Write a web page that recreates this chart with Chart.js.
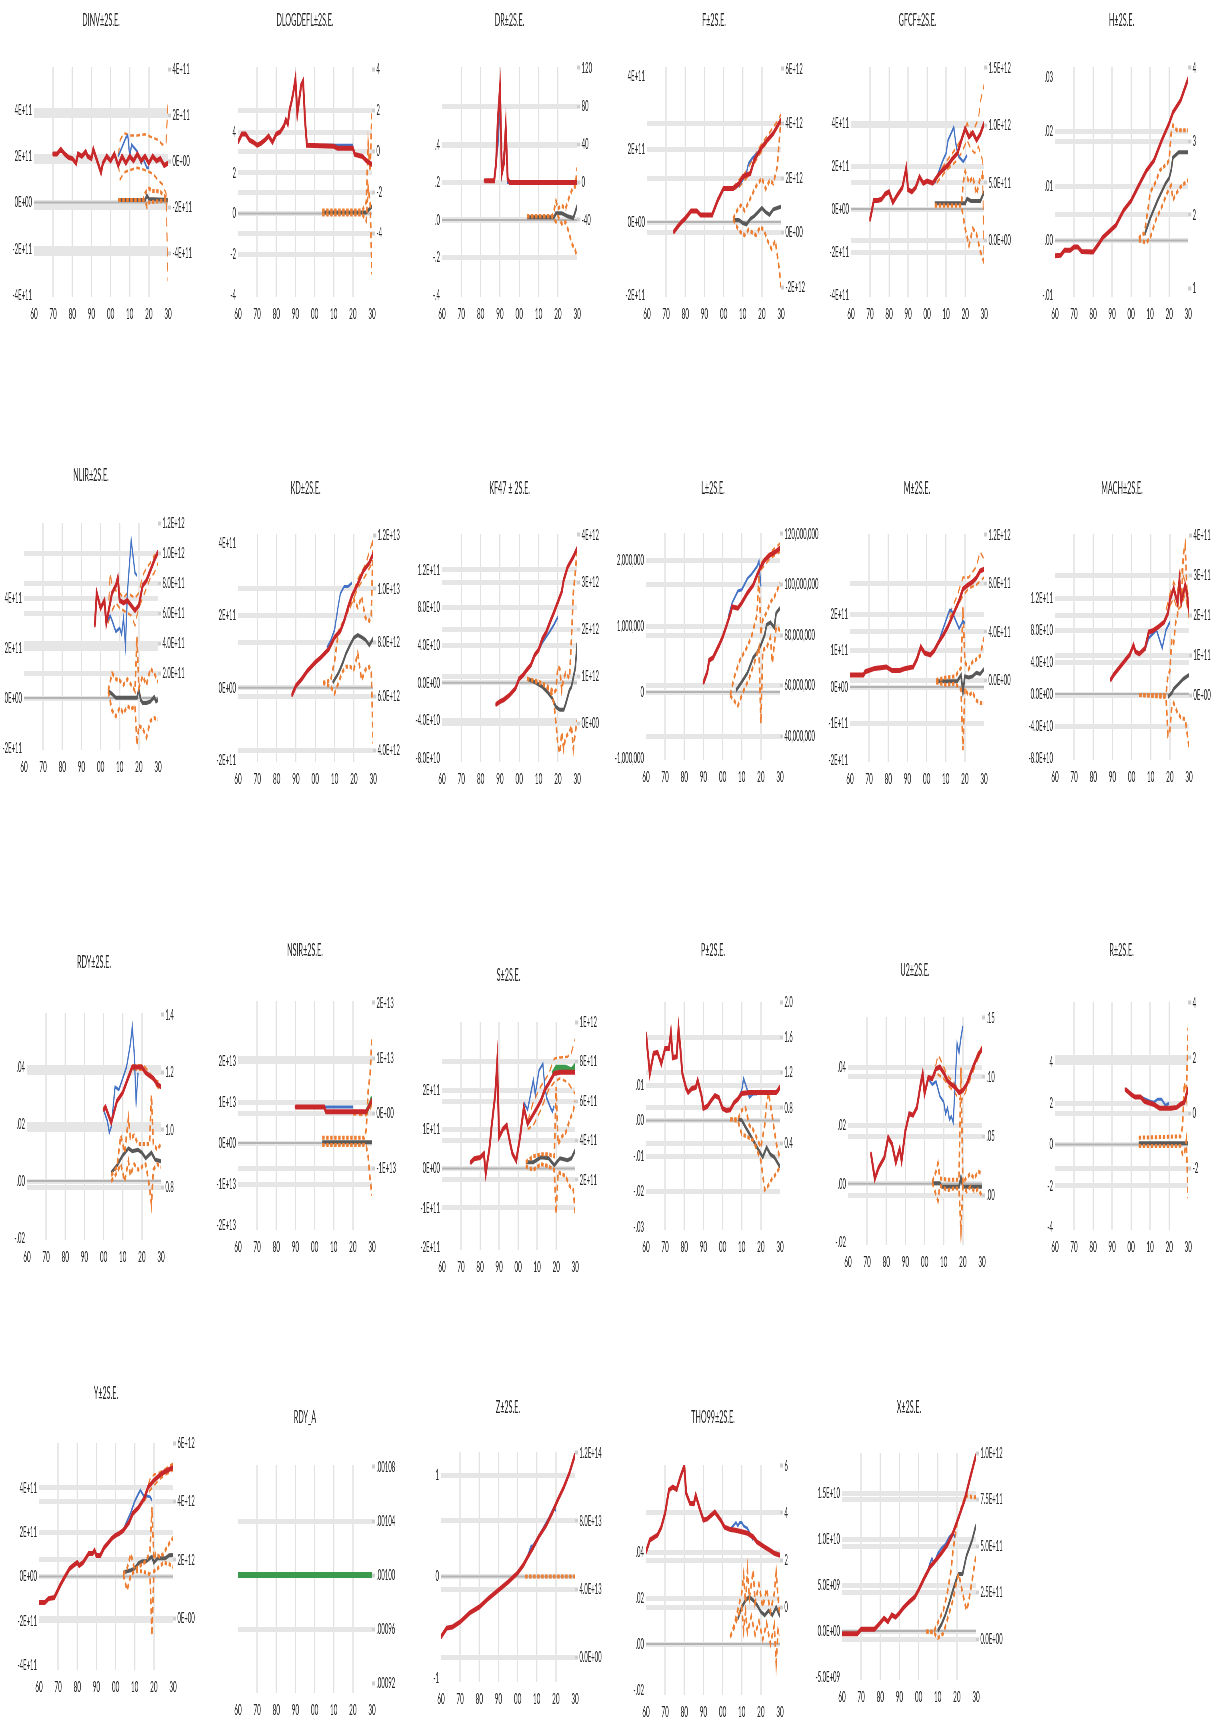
<!DOCTYPE html>
<html>
<head>
<meta charset="utf-8">
<script src="https://cdn.jsdelivr.net/npm/chart.js@4.4.1/dist/chart.umd.min.js"></script>
<style>
html, body { margin: 0; padding: 0; background: #fff; overflow: hidden; width: 1215px; height: 1717px; }
#wrap { position: relative; width: 1215px; height: 1717px; }
#wrap canvas { position: absolute; transform-origin: 0 0; }
</style>
</head>
<body>
<div id="wrap"></div>
<script>
// ---- shared axis labels ----
const decadeTicks = [1960, 1970, 1980, 1990, 2000, 2010, 2020, 2030];
const decadeLabels = ['60', '70', '80', '90', '00', '10', '20', '30'];
const t4 = [-4, -2, 0, 2, 4];
const e11Labels = ['-4E+11', '-2E+11', '0E+00', '2E+11', '4E+11'];
const plain4Labels = ['-4', '-2', '0', '2', '4'];

// ---- DINV (values in 1E11) ----
const dinvRed = [[1970,2.1],[1972,2.1],[1974,2.3],[1976,2.1],[1978,1.95],[1980,1.9],[1982,1.7],[1983,2.1],[1985,2.0],[1987,2.2],[1988,2.0],[1990,1.9],[1991,2.3],[1993,1.8],[1995,1.3],[1996,1.7],[1998,2.0],[2000,1.8],[2002,2.1],[2004,1.6],[2006,2.0],[2008,1.7],[2010,2.0],[2012,1.8],[2014,2.1],[2016,1.8],[2018,2.0],[2020,1.7],[2022,2.0],[2024,1.8],[2026,1.9],[2028,1.6],[2030,1.7]];
const dinvBlue = [[2004,2.0],[2006,2.4],[2008,2.8],[2009,2.9],[2010,2.0],[2011,2.5],[2012,2.4],[2014,2.2],[2016,1.7],[2017,1.9],[2019,1.5],[2020,1.5]];
const dinvHi = [[2004,2.0],[2005,2.7],[2007,3.0],[2010,2.9],[2014,2.9],[2018,2.95],[2022,2.8],[2025,2.7],[2027,2.5],[2029,2.6],[2030,4.3]];
const dinvLo = [[2004,1.7],[2005,1.0],[2007,1.3],[2010,1.4],[2014,1.5],[2018,1.4],[2022,1.25],[2025,0.95],[2027,0.8],[2029,0.4],[2030,-3.4]];
const dinvGray = [[2004,-1.7],[2018,-1.7],[2019,-1.5],[2020,-1.65],[2030,-1.7]];
const dinvDiffHi = [[2004,-1.7],[2017,-1.7],[2018,-1.4],[2020,-1.2],[2022,-1.3],[2024,-1.3],[2026,-1.35],[2028,-1.5],[2030,-1.7]];
const dinvDiffLo = [[2004,-1.7],[2018,-1.7],[2019,-2.0],[2020,-1.8],[2030,-1.7]];

// ---- DLOGDEFL ----
const dlogRed = [[1960,3.5],[1962,3.9],[1964,3.9],[1966,3.6],[1968,3.5],[1970,3.35],[1972,3.45],[1974,3.6],[1976,3.8],[1978,3.5],[1980,3.9],[1982,4.0],[1984,4.3],[1985,4.6],[1986,4.4],[1987,5.1],[1988,5.5],[1989,6.0],[1990,6.6],[1991,4.9],[1992,5.6],[1993,6.3],[1994,6.5],[1995,4.6],[1996,3.35],[2010,3.3],[2012,3.2],[2020,3.2],[2021,2.9],[2025,2.8],[2027,2.6],[2030,2.4]];
const dlogBlue = [[2004,3.35],[2020,3.35]];
const dlogGray = [[2004,-3.0],[2027,-3.0],[2028,-2.9],[2030,-2.7]];
const dlogDiffHi = [[2004,-2.9],[2025,-2.9],[2027,-2.5],[2028,0.3],[2029,-1.0],[2030,2.0]];
const dlogDiffLo = [[2004,-3.1],[2025,-3.1],[2027,-3.4],[2028,-1.8],[2029,-2.5],[2030,-6.0]];

// ---- DR ----
const drTicksL = [-0.4, -0.2, 0, 0.2, 0.4];
const drLabelsL = ['-.4', '-.2', '.0', '.2', '.4'];
const drTicksR = [-40, 0, 40, 80, 120];
const drLabelsR = ['-40', '0', '40', '80', '120'];
const drRed = [[1982,0.21],[1987,0.21],[1988,0.3],[1989,0.55],[1990,0.7],[1991,0.25],[1992,0.3],[1993,0.49],[1994,0.22],[1995,0.2],[2030,0.2]];
const drBlue = [[1987,0.21],[1989,0.4],[1990,0.62],[1991,0.25],[1993,0.45],[1994,0.2],[2020,0.2]];
const drGray = [[2004,-37],[2018,-37],[2019,-33],[2022,-33],[2025,-36],[2028,-38],[2030,-25]];
const drDiffHi = [[2004,-36],[2017,-36],[2018,-30],[2019,-20],[2020,-28],[2022,-25],[2024,-28],[2026,-15],[2028,-5],[2029,-5],[2030,15]];
const drDiffLo = [[2004,-36],[2017,-36],[2019,-42],[2020,-36],[2022,-44],[2024,-42],[2026,-55],[2027,-64],[2029,-72],[2030,-79]];

// ---- F (left 1E11, right 1E12) ----
const fTicksL = [-2, 0, 2, 4];
const fLabelsL = ['-2E+11', '0E+00', '2E+11', '4E+11'];
const fTicksR = [-2, 0, 2, 4, 6];
const fLabelsR = ['-2E+12', '0E+00', '2E+12', '4E+12', '6E+12'];
const fRed = [[1974,-0.27],[1976,-0.13],[1978,0.0],[1980,0.1],[1983,0.3],[1986,0.3],[1988,0.19],[1994,0.19],[1997,0.6],[2000,0.92],[2005,0.92],[2008,1.05],[2010,1.24],[2014,1.33],[2016,1.7],[2020,2.05],[2023,2.25],[2026,2.43],[2030,2.8]];
const fBlue = [[2005,0.92],[2008,1.0],[2010,1.15],[2012,1.35],[2013,1.6],[2015,1.75],[2017,1.85],[2020,2.05]];
const fHi = [[2005,0.95],[2008,1.15],[2012,1.4],[2016,1.8],[2020,2.15],[2024,2.45],[2028,2.75],[2030,2.95]];
const fLo = [[2005,0.9],[2008,0.95],[2012,1.2],[2016,1.6],[2020,1.95],[2024,2.3],[2028,2.6],[2030,2.7]];
const fGray = [[2005,0.46],[2008,0.46],[2010,0.35],[2012,0.3],[2014,0.5],[2016,0.6],[2018,0.75],[2020,0.9],[2022,0.75],[2024,0.65],[2026,0.85],[2028,0.9],[2030,0.95]];
const fDiffHi = [[2005,0.5],[2007,0.8],[2009,1.0],[2011,0.8],[2013,1.1],[2015,1.4],[2017,1.7],[2019,1.9],[2020,2.0],[2022,1.6],[2024,1.9],[2026,1.8],[2028,2.4],[2029,3.3],[2030,4.1]];
const fDiffLo = [[2005,0.5],[2007,0.2],[2009,0.0],[2011,-0.1],[2013,0.1],[2015,0.0],[2017,-0.1],[2019,0.2],[2021,0.1],[2023,-0.3],[2025,-0.6],[2027,-0.3],[2029,-1.3],[2030,-2.0]];

// ---- GFCF (left 1E11, right 1E12) ----
const gfcfTicksR = [0, 0.5, 1, 1.5];
const gfcfLabelsR = ['0.0E+00', '5.0E+11', '1.0E+12', '1.5E+12'];
const gfcfRed = [[1970,-0.5],[1972,0.4],[1974,0.4],[1976,0.45],[1978,0.7],[1980,0.8],[1982,0.3],[1984,0.6],[1987,1.0],[1989,1.9],[1990,0.9],[1992,0.8],[1994,1.0],[1996,1.5],[1998,1.2],[2000,1.3],[2003,1.2],[2006,1.6],[2008,1.8],[2011,2.05],[2013,2.3],[2016,2.6],[2018,3.2],[2020,3.75],[2022,3.35],[2024,3.55],[2026,3.2],[2028,3.5],[2030,4.0]];
const gfcfBlue = [[2004,1.2],[2006,1.7],[2008,2.2],[2010,2.6],[2011,3.2],[2013,3.6],[2014,3.8],[2015,3.1],[2016,2.6],[2017,2.4],[2019,2.2],[2021,2.5]];
const gfcfHi = [[2005,1.5],[2010,2.2],[2015,2.8],[2019,3.4],[2021,4.0],[2023,3.5],[2025,3.8],[2027,4.2],[2028,5.0],[2030,5.8]];
const gfcfLo = [[2005,1.2],[2010,1.8],[2015,2.2],[2018,2.6],[2021,3.2],[2023,2.8],[2025,2.6],[2027,2.9],[2029,2.3],[2030,-2.5]];
const gfcfGray = [[2004,0.32],[2020,0.32],[2021,0.36],[2023,0.34],[2028,0.34],[2030,0.42]];
const gfcfDiffHi = [[2004,0.3],[2018,0.3],[2019,0.5],[2020,0.6],[2022,0.5],[2024,0.55],[2026,0.4],[2028,0.55],[2030,0.55]];
const gfcfDiffLo = [[2004,0.3],[2018,0.3],[2020,0.1],[2022,-0.05],[2024,0.1],[2026,0.05],[2028,-0.1],[2030,-0.2]];

// ---- H ----
const hTicksL = [-0.01, 0, 0.01, 0.02, 0.03];
const hLabelsL = ['-.01', '.00', '.01', '.02', '.03'];
const hTicksR = [1, 2, 3, 4];
const hLabelsR = ['1', '2', '3', '4'];
const hRed = [[1960,-0.0028],[1963,-0.0027],[1965,-0.0018],[1968,-0.0018],[1970,-0.0012],[1972,-0.0012],[1974,-0.002],[1980,-0.0021],[1983,-0.0006],[1985,0.0005],[1989,0.0018],[1992,0.0028],[1996,0.0055],[2000,0.0073],[2004,0.0101],[2008,0.0128],[2012,0.0147],[2016,0.0183],[2020,0.0215],[2022,0.0235],[2026,0.0257],[2030,0.0297]];
const hGray = [[2007,1.72],[2010,1.95],[2014,2.2],[2018,2.42],[2020,2.5],[2021,2.6],[2022,2.78],[2025,2.85],[2030,2.85]];
const hDiffHi = [[2004,1.68],[2007,1.75],[2009,2.1],[2010,2.3],[2013,2.45],[2015,2.6],[2019,2.7],[2020,2.75],[2021,3.1],[2022,3.22],[2024,3.15],[2030,3.15]];
const hDiffLo = [[2004,1.65],[2008,1.62],[2010,1.68],[2013,1.93],[2016,2.1],[2019,2.3],[2021,2.4],[2022,2.2],[2024,2.3],[2026,2.38],[2030,2.47]];

// ---- NLIR (1E11) ----
const nlirTicksL = [-2, 0, 2, 4];
const nlirLabelsL = ['-2E+11', '0E+00', '2E+11', '4E+11'];
const nlirTicksR = [2, 4, 6, 8, 10, 12];
const nlirLabelsR = ['2.0E+11', '4.0E+11', '6.0E+11', '8.0E+11', '1.0E+12', '1.2E+12'];
const nlirRed = [[1997,2.9],[1998,4.2],[2000,3.6],[2002,3.9],[2003,3.0],[2006,4.2],[2008,4.5],[2009,4.8],[2010,3.9],[2012,3.8],[2014,3.9],[2016,3.7],[2018,3.5],[2020,3.7],[2022,4.5],[2024,4.7],[2026,5.1],[2028,5.5],[2030,5.85]];
const nlirBlue = [[2003,3.0],[2005,3.3],[2006,3.1],[2008,2.65],[2010,2.8],[2011,2.55],[2012,3.2],[2013,2.1],[2014,4.2],[2016,6.3],[2018,5.0],[2019,4.9]];
const nlirHi = [[2004,3.3],[2005,5.0],[2006,4.5],[2008,4.3],[2010,4.2],[2012,4.0],[2014,4.2],[2016,4.1],[2018,4.0],[2020,4.2],[2022,4.9],[2024,5.2],[2026,5.4],[2028,5.7],[2030,5.7]];
const nlirLo = [[2004,3.0],[2006,3.5],[2008,3.8],[2010,3.6],[2012,3.5],[2016,3.3],[2018,2.9],[2019,3.3],[2020,3.6],[2022,4.0],[2024,4.4],[2026,4.8],[2028,5.0],[2030,5.4]];
const nlirGray = [[2004,0.8],[2006,0.6],[2008,0.35],[2019,0.35],[2020,0.9],[2021,0.2],[2022,0.0],[2024,0.0],[2026,0.1],[2028,0.4],[2029,0.1],[2030,0.2]];
const nlirDiffHi = [[2004,0.8],[2006,2.0],[2008,1.6],[2010,1.5],[2012,1.2],[2014,1.6],[2016,1.2],[2018,0.8],[2019,4.4],[2020,1.0],[2022,1.8],[2024,1.2],[2026,2.3],[2028,2.0],[2030,1.4]];
const nlirDiffLo = [[2004,0.8],[2006,-0.5],[2008,-0.9],[2010,-0.3],[2012,-0.7],[2014,-0.2],[2016,-0.4],[2018,-0.2],[2019,-2.8],[2020,-1.5],[2022,-1.7],[2024,-2.3],[2026,-1.2],[2028,-1.0],[2030,-1.1]];

// ---- KD (left 1E11, right 1E12) ----
const kdTicksR = [4, 6, 8, 10, 12];
const kdLabelsR = ['4.0E+12', '6.0E+12', '8.0E+12', '1.0E+13', '1.2E+13'];
const kdRed = [[1988,-0.2],[1990,0.05],[1993,0.24],[1996,0.47],[2000,0.7],[2003,0.84],[2007,1.07],[2010,1.39],[2013,1.57],[2015,1.85],[2017,2.22],[2019,2.54],[2022,2.87],[2025,3.24],[2028,3.45],[2030,3.7]];
const kdBlue = [[2006,1.1],[2008,1.3],[2010,1.6],[2012,2.3],[2013,2.6],[2015,2.8],[2017,2.8],[2019,2.9]];
const kdHi = [[2018,2.35],[2022,3.0],[2026,3.4],[2030,4.1]];
const kdLo = [[2018,2.2],[2022,2.75],[2026,3.1],[2030,3.5]];
const kdGray = [[2009,6.5],[2012,6.86],[2014,7.2],[2016,7.6],[2018,7.9],[2020,8.17],[2022,8.28],[2024,8.2],[2026,8.1],[2028,7.9],[2030,8.15]];
const kdDiffHi = [[2004,6.5],[2008,6.6],[2010,7.3],[2012,8.4],[2014,8.7],[2016,9.0],[2018,9.4],[2020,9.6],[2022,9.3],[2024,9.7],[2026,8.9],[2028,8.8],[2029,9.0],[2030,11.9]];
const kdDiffLo = [[2004,6.5],[2008,6.36],[2010,6.1],[2012,6.5],[2014,6.9],[2016,7.1],[2018,7.1],[2020,7.0],[2022,7.6],[2024,6.6],[2026,7.0],[2028,7.1],[2029,6.9],[2030,4.25]];

// ---- KF47 (left 1E10, right 1E12) ----
const e10Ticks = [-8, -4, 0, 4, 8, 12];
const e10Labels = ['-8.0E+10', '-4.0E+10', '0.0E+00', '4.0E+10', '8.0E+10', '1.2E+11'];
const kfTicksR = [0, 1, 2, 3, 4];
const kfLabelsR = ['0E+00', '1E+12', '2E+12', '3E+12', '4E+12'];
const kfRed = [[1988,-2.3],[1990,-2.0],[1992,-1.8],[1995,-1.3],[1998,-0.6],[2000,0.45],[2002,0.83],[2004,1.4],[2006,1.9],[2008,2.95],[2010,3.5],[2012,4.7],[2014,5.4],[2016,6.5],[2018,7.5],[2020,8.6],[2022,9.7],[2023,10.9],[2025,12.3],[2028,13.4],[2030,14.3]];
const kfBlue = [[2006,1.9],[2008,2.9],[2010,3.4],[2012,4.3],[2014,4.9],[2016,5.5],[2018,6.2],[2020,7.0]];
const kfGray = [[2004,0.94],[2008,0.87],[2012,0.77],[2015,0.64],[2017,0.53],[2019,0.34],[2021,0.28],[2023,0.28],[2024,0.4],[2026,0.7],[2027,0.77],[2029,1.17],[2030,1.7]];
const kfDiffHi = [[2004,0.94],[2010,0.88],[2014,0.8],[2017,0.7],[2018,0.65],[2019,0.7],[2020,1.2],[2021,1.15],[2022,0.7],[2023,0.95],[2024,1.06],[2026,0.95],[2027,1.77],[2028,2.77],[2029,3.2],[2030,3.7]];
const kfDiffLo = [[2004,0.94],[2010,0.86],[2014,0.78],[2017,0.6],[2018,0.4],[2019,0.0],[2020,-0.47],[2021,-0.64],[2022,-0.2],[2023,-0.55],[2024,-0.3],[2026,-0.2],[2027,-0.05],[2028,-0.55],[2029,-0.2],[2030,0.06]];

// ---- L (millions) ----
const lTicksL = [-1, 0, 1, 2];
const lLabelsL = ['-1,000,000', '0', '1,000,000', '2,000,000'];
const lTicksR = [40, 60, 80, 100, 120];
const lLabelsR = ['40,000,000', '60,000,000', '80,000,000', '100,000,000', '120,000,000'];
const lRed = [[1990,0.14],[1992,0.3],[1993,0.48],[1995,0.52],[1998,0.7],[2000,0.83],[2002,1.0],[2004,1.18],[2005,1.29],[2008,1.27],[2010,1.35],[2013,1.5],[2016,1.62],[2018,1.77],[2020,1.9],[2022,2.0],[2025,2.08],[2028,2.13],[2030,2.18]];
const lBlue = [[2003,1.14],[2005,1.35],[2008,1.53],[2010,1.55],[2013,1.72],[2015,1.78],[2018,1.9],[2019,1.98],[2020,1.6]];
const lHi = [[2020,1.95],[2025,2.12],[2030,2.25]];
const lLo = [[2020,1.85],[2025,2.03],[2030,2.12]];
const lGray = [[2007,58],[2010,61.4],[2013,65],[2016,71],[2018,73],[2020,76],[2022,80],[2023,84],[2025,85],[2027,83],[2028,88.7],[2030,90.7]];
const lDiffHi = [[2004,56],[2006,63],[2009,70],[2012,74],[2015,79],[2018,88],[2019,104],[2020,80],[2021,86],[2023,89],[2025,93],[2027,95],[2029,98.6],[2030,100.6]];
const lDiffLo = [[2004,56],[2006,54],[2008,52],[2011,58],[2014,63],[2017,70],[2019,75],[2020,45],[2021,74],[2023,75],[2025,79],[2026,69],[2028,83],[2030,82]];

// ---- M (1E11) ----
const mTicksL = [-2, -1, 0, 1, 2];
const mLabelsL = ['-2E+11', '-1E+11', '0E+00', '1E+11', '2E+11'];
const mTicksR = [0, 4, 8, 12];
const mLabelsR = ['0.0E+00', '4.0E+11', '8.0E+11', '1.2E+12'];
const mRed = [[1960,0.33],[1967,0.33],[1968,0.42],[1973,0.51],[1979,0.55],[1982,0.45],[1986,0.45],[1989,0.51],[1993,0.55],[1995,0.77],[1997,1.1],[1999,0.93],[2002,0.88],[2004,1.0],[2006,1.2],[2009,1.45],[2011,1.64],[2014,2.0],[2017,2.36],[2019,2.68],[2021,2.77],[2024,2.88],[2026,2.99],[2028,3.18],[2030,3.23]];
const mBlue = [[2004,1.0],[2006,1.2],[2008,1.5],[2010,1.8],[2012,2.1],[2013,2.1],[2015,1.85],[2017,1.6],[2019,1.8],[2020,1.75]];
const mHi = [[2012,2.0],[2016,2.5],[2019,3.0],[2022,3.0],[2026,3.3],[2028,3.7],[2030,3.5]];
const mLo = [[2012,1.9],[2016,2.2],[2019,2.5],[2022,2.7],[2026,2.8],[2028,2.9],[2030,3.0]];
const mGray = [[2005,-0.1],[2016,-0.1],[2018,0.4],[2019,-1.0],[2020,0.3],[2022,0.2],[2024,0.3],[2026,0.6],[2028,0.5],[2030,0.9]];
const mDiffHi = [[2005,0.0],[2010,0.2],[2015,0.3],[2018,1.0],[2019,6.0],[2020,1.5],[2022,0.9],[2024,1.5],[2026,1.7],[2028,2.0],[2030,3.5]];
const mDiffLo = [[2005,-0.2],[2010,-0.4],[2015,-0.3],[2018,-0.8],[2019,-5.8],[2020,-0.7],[2022,-1.3],[2024,-1.0],[2026,-1.7],[2028,-1.9],[2030,-1.9]];

// ---- MACH (left 1E10, right 1E11) ----
const machLabelsR = ['0E+00', '1E+11', '2E+11', '3E+11', '4E+11'];
const machRed = [[1989,1.75],[1991,2.5],[1994,3.4],[1997,4.3],[1999,4.9],[2001,6.1],[2002,5.3],[2004,5.0],[2007,5.7],[2009,7.75],[2011,7.9],[2014,8.4],[2017,9.0],[2019,10.1],[2020,11.75],[2022,13.2],[2024,11.4],[2025,14.25],[2026,11.5],[2028,13.6],[2029,12.5],[2030,10.25]];
const machBlue = [[2007,5.5],[2009,7.0],[2011,7.5],[2013,8.0],[2015,6.5],[2016,5.75],[2018,8.0],[2020,9.0]];
const machHi = [[2018,10.5],[2020,12.5],[2022,14.0],[2024,13.0],[2026,15.5],[2028,14.0],[2030,12.0]];
const machLo = [[2018,9.5],[2020,11.0],[2022,12.0],[2024,10.5],[2026,11.0],[2028,12.5],[2030,9.5]];
const machGray = [[2019,-0.05],[2021,0.05],[2022,0.15],[2024,0.25],[2025,0.3],[2027,0.4],[2030,0.5]];
const machDiffHi = [[2004,0.0],[2018,0.0],[2019,0.5],[2020,0.6],[2021,1.4],[2022,1.3],[2023,1.8],[2024,2.0],[2025,2.9],[2026,2.2],[2027,3.5],[2028,3.75],[2029,2.5],[2030,2.2]];
const machDiffLo = [[2004,0.0],[2018,-0.05],[2019,-1.0],[2020,-0.9],[2021,-0.3],[2022,-0.2],[2024,-0.45],[2026,-0.58],[2028,-0.6],[2030,-1.3]];

// ---- RDY ----
const rdyTicksL = [-0.02, 0, 0.02, 0.04];
const rdyLabelsL = ['-.02', '.00', '.02', '.04'];
const rdyTicksR = [0.8, 1.0, 1.2, 1.4];
const rdyLabelsR = ['0.8', '1.0', '1.2', '1.4'];
const rdyRed = [[2000,0.025],[2001,0.026],[2004,0.0205],[2007,0.028],[2010,0.031],[2013,0.0365],[2015,0.04],[2020,0.04],[2022,0.038],[2024,0.037],[2026,0.036],[2028,0.034],[2030,0.033]];
const rdyBlue = [[2000,0.025],[2002,0.021],[2003,0.017],[2004,0.019],[2005,0.026],[2006,0.033],[2008,0.032],[2010,0.036],[2012,0.04],[2014,0.048],[2015,0.054],[2016,0.045],[2017,0.028],[2018,0.038]];
const rdyHi = [[2013,0.0365],[2015,0.0405],[2021,0.0405],[2024,0.038],[2026,0.036],[2028,0.035],[2030,0.035]];
const rdyLo = [[2013,0.036],[2015,0.039],[2021,0.039],[2024,0.037],[2026,0.0355],[2028,0.033],[2030,0.032]];
const rdyGray = [[2004,0.85],[2007,0.875],[2010,0.91],[2013,0.935],[2015,0.925],[2018,0.93],[2020,0.92],[2022,0.9],[2025,0.92],[2027,0.895],[2030,0.89]];
const rdyDiffHi = [[2004,0.84],[2007,0.87],[2009,0.98],[2011,0.92],[2013,1.04],[2014,0.97],[2016,0.98],[2018,0.95],[2020,0.95],[2022,0.95],[2024,0.95],[2025,1.12],[2026,0.95],[2028,0.93],[2030,0.95]];
const rdyDiffLo = [[2004,0.82],[2007,0.85],[2009,0.88],[2011,0.82],[2013,0.89],[2014,0.84],[2016,0.88],[2018,0.86],[2020,0.87],[2022,0.88],[2024,0.8],[2025,0.74],[2026,0.86],[2028,0.88],[2030,0.87]];

// ---- NSIR (1E13) ----
const nsirTicksL = [-2, -1, 0, 1, 2];
const nsirLabelsL = ['-2E+13', '-1E+13', '0E+00', '1E+13', '2E+13'];
const nsirTicksR = [-1, 0, 1, 2];
const nsirLabelsR = ['-1E+13', '0E+00', '1E+13', '2E+13'];
const nsirRed = [[1990,0.88],[2005,0.88],[2006,0.76],[2027,0.76],[2028,0.85],[2030,1.05]];
const nsirBlue = [[2005,0.88],[2020,0.88]];
const nsirGreen = [[2027,0.76],[2029,0.95],[2030,1.12]];
const nsirHi = [[2020,0.78],[2027,0.78],[2029,0.95],[2030,1.1]];
const nsirLo = [[2020,0.7],[2027,0.68],[2029,0.8],[2030,0.95]];
const nsirGray = [[2004,-0.53],[2030,-0.53]];
const nsirDiffHi = [[2004,-0.45],[2026,-0.45],[2027,-0.3],[2028,0.4],[2029,0.7],[2030,1.4]];
const nsirDiffLo = [[2004,-0.58],[2026,-0.58],[2027,-0.6],[2028,-0.8],[2029,-1.2],[2030,-1.5]];

// ---- S (1E11) ----
const sLabelsL = ['-2E+11', '-1E+11', '0E+00', '1E+11', '2E+11'];
const sTicksR = [2, 4, 6, 8, 10];
const sLabelsR = ['2E+11', '4E+11', '6E+11', '8E+11', '1E+12'];
const sRed = [[1975,0.15],[1977,0.25],[1980,0.28],[1982,0.38],[1983,-0.13],[1985,0.54],[1986,1.04],[1988,1.9],[1989,2.7],[1990,0.8],[1992,1.0],[1994,1.1],[1996,0.6],[1997,0.38],[1999,0.2],[2001,0.8],[2003,1.55],[2005,1.14],[2007,1.3],[2010,1.55],[2012,1.73],[2014,2.0],[2016,2.16],[2019,2.42],[2022,2.45],[2026,2.45],[2030,2.45]];
const sBlue = [[2003,1.68],[2005,1.5],[2007,2.0],[2008,2.25],[2009,1.9],[2011,2.5],[2013,2.67],[2014,2.1],[2015,1.8],[2017,1.55],[2018,1.45],[2019,1.6]];
const sGreen = [[2018,2.4],[2020,2.57],[2025,2.57],[2028,2.5],[2030,2.62]];
const sHi = [[2005,1.2],[2008,1.7],[2012,2.1],[2016,2.4],[2019,2.8],[2022,2.83],[2026,2.85],[2028,2.95],[2030,3.3]];
const sLo = [[2005,1.0],[2008,1.1],[2012,1.5],[2016,2.0],[2019,2.2],[2022,2.3],[2026,2.2],[2028,2.05],[2030,1.9]];
const sGray = [[2004,2.9],[2008,2.9],[2012,3.15],[2016,3.1],[2019,2.75],[2022,3.1],[2026,3.0],[2028,3.1],[2030,3.5]];
const sDiffHi = [[2004,2.9],[2008,3.2],[2012,3.3],[2016,3.3],[2019,3.2],[2020,6.7],[2021,3.8],[2023,4.2],[2025,4.4],[2027,5.0],[2029,5.5],[2030,6.0]];
const sDiffLo = [[2004,2.7],[2008,2.5],[2012,2.8],[2016,2.7],[2019,2.5],[2020,0.3],[2021,2.4],[2023,2.3],[2025,2.2],[2027,1.7],[2029,1.5],[2030,0.3]];

// ---- P ----
const pTicksL = [-0.03, -0.02, -0.01, 0, 0.01];
const pLabelsL = ['-.03', '-.02', '-.01', '.00', '.01'];
const pTicksR = [0.4, 0.8, 1.2, 1.6, 2.0];
const pLabelsR = ['0.4', '0.8', '1.2', '1.6', '2.0'];
const pRed = [[1960,0.0245],[1962,0.0132],[1964,0.0189],[1966,0.0192],[1968,0.016],[1970,0.0203],[1972,0.0203],[1973,0.0248],[1974,0.0177],[1976,0.018],[1977,0.0259],[1978,0.02],[1979,0.0132],[1981,0.009],[1982,0.0079],[1984,0.009],[1986,0.0093],[1987,0.0113],[1989,0.007],[1990,0.0034],[1992,0.004],[1994,0.0056],[1996,0.007],[1998,0.0065],[2000,0.0034],[2002,0.0028],[2004,0.003],[2006,0.005],[2008,0.006],[2010,0.0076],[2014,0.0079],[2020,0.0079],[2028,0.0079],[2029,0.0085],[2030,0.0095]];
const pBlue = [[2008,0.006],[2010,0.0085],[2011,0.0118],[2013,0.0085],[2014,0.0065],[2016,0.0075],[2018,0.0075]];
const pGray = [[2008,0.67],[2010,0.66],[2012,0.58],[2015,0.47],[2018,0.35],[2021,0.24],[2023,0.35],[2025,0.27],[2027,0.24],[2030,0.13]];
const pDiffHi = [[2004,0.67],[2008,0.67],[2010,0.77],[2012,0.8],[2014,0.6],[2016,0.55],[2018,0.45],[2020,0.35],[2022,0.6],[2023,0.85],[2024,0.97],[2026,0.7],[2028,0.4],[2030,0.22]];
const pDiffLo = [[2004,0.67],[2008,0.65],[2010,0.5],[2013,0.47],[2016,0.43],[2018,0.32],[2020,0.2],[2022,-0.13],[2024,-0.08],[2026,0.0],[2028,0.05],[2030,0.13]];

// ---- U2 ----
const u2TicksR = [0, 0.05, 0.1, 0.15];
const u2LabelsR = ['.00', '.05', '.10', '.15'];
const u2Red = [[1972,0.0103],[1974,0.0017],[1976,0.0055],[1979,0.009],[1981,0.0158],[1983,0.0135],[1985,0.0073],[1987,0.012],[1988,0.0079],[1990,0.0182],[1992,0.024],[1994,0.0235],[1996,0.0261],[1998,0.0343],[1999,0.0377],[2000,0.0309],[2002,0.0364],[2004,0.036],[2006,0.0394],[2008,0.04],[2010,0.038],[2012,0.0353],[2014,0.034],[2016,0.033],[2018,0.0312],[2020,0.032],[2022,0.034],[2024,0.0377],[2026,0.0411],[2028,0.044],[2030,0.0463]];
const u2Blue = [[2000,0.031],[2002,0.036],[2004,0.034],[2006,0.035],[2008,0.03],[2010,0.028],[2011,0.024],[2012,0.026],[2013,0.022],[2014,0.023],[2015,0.021],[2016,0.035],[2017,0.048],[2018,0.045],[2019,0.05],[2020,0.054]];
const u2Hi = [[2004,0.036],[2006,0.041],[2007,0.044],[2008,0.043],[2010,0.04],[2012,0.037],[2016,0.034],[2018,0.032],[2020,0.031],[2024,0.038],[2028,0.045],[2030,0.047]];
const u2Lo = [[2004,0.036],[2006,0.038],[2008,0.037],[2010,0.036],[2012,0.034],[2016,0.031],[2018,0.029],[2020,0.029],[2024,0.036],[2028,0.043],[2030,0.045]];
const u2Gray = [[2004,0.01],[2008,0.01],[2009,0.007],[2018,0.007],[2019,0.015],[2020,0.007],[2030,0.007]];
const u2DiffHi = [[2004,0.011],[2006,0.02],[2007,0.027],[2008,0.014],[2012,0.013],[2016,0.013],[2018,0.013],[2019,0.108],[2020,0.01],[2022,0.015],[2024,0.018],[2026,0.014],[2028,0.02],[2030,0.018]];
const u2DiffLo = [[2004,0.011],[2006,0.0],[2007,-0.005],[2008,0.008],[2012,0.004],[2016,0.006],[2018,0.005],[2019,-0.03],[2020,0.007],[2022,0.003],[2024,0.007],[2026,0.003],[2028,0.005],[2030,-0.001]];

// ---- R ----
const rTicksR = [-2, 0, 2, 4];
const rLabelsR = ['-2', '0', '2', '4'];
const rRed = [[1997,2.67],[2000,2.43],[2002,2.3],[2005,2.3],[2007,2.09],[2010,2.0],[2012,1.94],[2015,1.76],[2018,1.76],[2021,1.76],[2024,1.8],[2026,1.95],[2028,2.05],[2030,2.72]];
const rBlue = [[2005,2.3],[2010,2.1],[2012,2.05],[2014,2.2],[2016,2.2],[2018,1.9],[2020,2.0]];
const rGray = [[2004,-1.1],[2030,-1.1]];
const rDiffHi = [[2004,-0.9],[2026,-0.85],[2027,-0.5],[2028,1.1],[2029,0.6],[2030,3.1]];
const rDiffLo = [[2004,-1.2],[2026,-1.2],[2027,-1.5],[2028,-1.5],[2029,-1.0],[2030,-3.1]];

// ---- Y (left 1E11, right 1E12) ----
const yTicksR = [0, 2, 4, 6];
const yLabelsR = ['0E+00', '2E+12', '4E+12', '6E+12'];
const yRed = [[1960,-1.18],[1963,-1.18],[1965,-1.0],[1968,-0.95],[1971,-0.41],[1973,-0.09],[1976,0.36],[1978,0.5],[1980,0.63],[1981,0.5],[1983,0.63],[1986,1.04],[1988,1.04],[1989,1.18],[1990,0.95],[1992,0.95],[1994,1.3],[1996,1.5],[1998,1.72],[2000,1.86],[2002,1.95],[2004,2.08],[2007,2.44],[2009,2.85],[2012,3.12],[2015,3.53],[2017,4.03],[2020,4.34],[2023,4.57],[2025,4.7],[2030,4.93]];
const yBlue = [[2004,2.1],[2006,2.5],[2008,2.9],[2010,3.4],[2012,3.75],[2013,3.9],[2014,3.75],[2015,3.6],[2016,3.65],[2018,3.6],[2019,3.45]];
const yHi = [[2015,3.6],[2018,4.4],[2020,4.6],[2023,4.7],[2026,4.85],[2028,5.0],[2030,5.1]];
const yLo = [[2015,3.4],[2018,3.9],[2020,4.1],[2023,4.4],[2026,4.6],[2028,4.7],[2030,4.8]];
const yGray = [[2004,1.55],[2006,1.6],[2008,1.64],[2010,1.7],[2012,1.88],[2014,1.95],[2016,1.95],[2018,2.05],[2019,2.1],[2020,1.9],[2022,2.05],[2026,2.05],[2028,2.15],[2030,2.16]];
const yDiffHi = [[2004,1.5],[2006,1.7],[2008,2.2],[2010,1.65],[2013,1.8],[2016,1.95],[2018,2.3],[2019,3.8],[2020,2.0],[2021,2.2],[2023,2.1],[2025,2.2],[2027,2.45],[2029,2.65],[2030,2.75]];
const yDiffLo = [[2004,1.5],[2006,0.95],[2007,1.2],[2008,1.5],[2010,1.6],[2014,1.6],[2018,1.5],[2019,-0.6],[2020,1.6],[2022,1.7],[2025,1.9],[2028,1.85],[2030,1.75]];

// ---- RDY_A ----
const rdyaTicksR = [0.00092, 0.00096, 0.001, 0.00104, 0.00108];
const rdyaLabelsR = ['.00092', '.00096', '.00100', '.00104', '.00108'];
const rdyaGreen = [[1960,0.001],[2030,0.001]];

// ---- Z (left plain, right 1E13) ----
const zTicksL = [-1, 0, 1];
const zLabelsL = ['-1', '0', '1'];
const zTicksR = [0, 4, 8, 12];
const zLabelsR = ['0.0E+00', '4.0E+13', '8.0E+13', '1.2E+14'];
const zRed = [[1960,1.18],[1963,1.7],[1966,1.77],[1970,2.06],[1975,2.6],[1980,2.94],[1985,3.47],[1990,3.94],[1995,4.41],[2000,4.94],[2003,5.41],[2005,5.82],[2008,6.41],[2011,7.06],[2015,7.76],[2018,8.47],[2021,9.24],[2024,9.94],[2027,10.8],[2030,11.9]];
const zBlue = [[2005,5.85],[2007,6.5],[2008,6.55],[2010,6.9],[2013,7.5],[2016,8.1],[2019,8.8],[2020,8.6]];
const zDiff = [[2004,0],[2030,0]];

// ---- THO99 ----
const thoTicksR = [0, 2, 4, 6];
const thoLabelsR = ['0', '2', '4', '6'];
const thoRed = [[1960,2.34],[1962,2.85],[1966,3.06],[1968,3.4],[1970,4.0],[1972,4.98],[1974,5.1],[1976,5.0],[1978,5.54],[1980,6.0],[1981,4.84],[1983,4.41],[1985,4.4],[1986,4.75],[1988,4.2],[1990,3.7],[1992,3.75],[1994,3.9],[1996,4.04],[1999,3.7],[2001,3.4],[2004,3.3],[2006,3.28],[2009,3.22],[2013,3.14],[2016,2.98],[2018,2.77],[2022,2.55],[2024,2.45],[2027,2.29],[2030,2.2]];
const thoBlue = [[2004,3.3],[2006,3.5],[2007,3.6],[2008,3.45],[2009,3.6],[2010,3.6],[2011,3.45],[2013,3.35],[2015,3.0],[2016,2.85]];
const thoGray = [[2008,0.011],[2010,0.016],[2012,0.019],[2014,0.0205],[2016,0.019],[2018,0.017],[2020,0.014],[2022,0.0125],[2024,0.0145],[2026,0.0125],[2028,0.016],[2030,0.012]];
const thoDiffHi = [[2004,0.003],[2006,0.008],[2008,0.015],[2010,0.022],[2011,0.03],[2012,0.018],[2013,0.032],[2014,0.02],[2016,0.032],[2017,0.018],[2019,0.026],[2021,0.016],[2023,0.024],[2025,0.014],[2027,0.022],[2028,0.031],[2029,0.02],[2030,0.012]];
const thoDiffLo = [[2004,0.003],[2006,0.007],[2008,0.012],[2010,0.016],[2011,0.006],[2012,0.014],[2013,0.005],[2015,0.012],[2017,0.004],[2019,0.01],[2021,0.002],[2023,0.009],[2025,0.0],[2027,0.008],[2028,-0.008],[2029,0.006],[2030,0.004]];

// ---- X (left 1E9, right 1E11) ----
const xTicksL = [-5, 0, 5, 10, 15];
const xLabelsL = ['-5.0E+09', '0.0E+00', '5.0E+09', '1.0E+10', '1.5E+10'];
const xTicksR = [0, 2.5, 5, 7.5, 10];
const xLabelsR = ['0.0E+00', '2.5E+11', '5.0E+11', '7.5E+11', '1.0E+12'];
const xRed = [[1960,-0.3],[1968,-0.3],[1970,0.2],[1977,0.2],[1979,0.65],[1982,1.4],[1984,1.0],[1986,1.74],[1988,1.5],[1990,1.96],[1992,2.5],[1995,3.15],[1998,3.7],[2000,4.46],[2003,5.76],[2006,6.96],[2009,7.7],[2012,8.48],[2015,9.35],[2018,10.65],[2021,12.4],[2024,14.2],[2027,16.7],[2030,19.1]];
const xBlue = [[2004,6.0],[2006,7.4],[2007,7.9],[2008,7.3],[2010,8.4],[2012,9.0],[2014,9.4],[2016,10.2],[2018,10.6],[2019,10.2]];
const xGray = [[2010,0.43],[2012,0.8],[2014,1.3],[2016,1.94],[2018,2.63],[2020,3.28],[2021,3.5],[2023,3.5],[2025,4.46],[2028,5.32],[2030,6.13]];
const xDiffHi = [[2004,0.4],[2008,0.4],[2010,0.86],[2013,1.56],[2015,2.47],[2017,3.71],[2018,4.78],[2020,6.13],[2022,6.94],[2024,7.58],[2026,7.74],[2028,7.6],[2030,7.63]];
const xDiffLo = [[2004,0.4],[2008,0.35],[2010,0.05],[2013,0.3],[2016,1.4],[2018,2.1],[2020,3.17],[2021,3.5],[2023,2.47],[2025,1.56],[2026,1.9],[2028,3.17],[2030,4.5]];

// ---- layout ----
const SQUEEZE = 0.4;      // the source picture is squashed sideways
const LEFT_W = 100, RIGHT_W = 110, AXIS_H = 34;
const BLUE = '#4472c4', RED = '#c9282b', GREEN = '#3b9a4c', GRAY = '#595959', ORANGE = '#ed7d31', GRID = '#e6e6e6';
const TEXT = '#262626';
Chart.defaults.font.family = 'Lato, "Open Sans", sans-serif';

const panels = [
  { title: 'DINV±2S.E.', x0: 34, x1: 168, top: 67, bottom: 297, titleY: 20,
    left: { ticks: t4, labels: e11Labels, map: [4, 110, -4, 295] }, right: { ticks: t4, labels: e11Labels, map: [4, 69, -4, 253] },
    red: dinvRed, blue: dinvBlue, hi: dinvHi, lo: dinvLo, gray: dinvGray, dhi: dinvDiffHi, dlo: dinvDiffLo },
  { title: 'DLOGDEFL±2S.E.', x0: 238, x1: 372, top: 67, bottom: 297, titleY: 20,
    left: { ticks: t4, labels: plain4Labels, map: [4, 132, -4, 295] }, right: { ticks: t4, labels: plain4Labels, map: [4, 69, -4, 233] },
    red: dlogRed, blue: dlogBlue, gray: dlogGray, dhi: dlogDiffHi, dlo: dlogDiffLo },
  { title: 'DR±2S.E.', x0: 442, x1: 577, top: 67, bottom: 297, titleY: 20,
    left: { ticks: drTicksL, labels: drLabelsL, map: [0.4, 145, -0.4, 295] }, right: { ticks: drTicksR, labels: drLabelsR, map: [120, 68, -40, 220] },
    red: drRed, blue: drBlue, gray: drGray, dhi: drDiffHi, dlo: drDiffLo },
  { title: 'F±2S.E.', x0: 647, x1: 781, top: 67, bottom: 297, titleY: 20,
    left: { ticks: fTicksL, labels: fLabelsL, map: [4, 76, -2, 295] }, right: { ticks: fTicksR, labels: fLabelsR, map: [6, 69, -2, 287] },
    red: fRed, blue: fBlue, hi: fHi, lo: fLo, gray: fGray, dhi: fDiffHi, dlo: fDiffLo },
  { title: 'GFCF±2S.E.', x0: 851, x1: 984, top: 67, bottom: 297, titleY: 20,
    left: { ticks: t4, labels: e11Labels, map: [4, 123, -4, 295] }, right: { ticks: gfcfTicksR, labels: gfcfLabelsR, map: [1.5, 68, 0, 240] },
    red: gfcfRed, blue: gfcfBlue, hi: gfcfHi, lo: gfcfLo, gray: gfcfGray, dhi: gfcfDiffHi, dlo: gfcfDiffLo },
  { title: 'H±2S.E.', x0: 1055, x1: 1188, top: 67, bottom: 297, titleY: 20,
    left: { ticks: hTicksL, labels: hLabelsL, map: [0.03, 77, -0.01, 295] }, right: { ticks: hTicksR, labels: hLabelsR, map: [4, 68, 1, 288] },
    red: hRed, gray: hGray, dhi: hDiffHi, dlo: hDiffLo },

  { title: 'NLIR±2S.E.', x0: 24, x1: 158, top: 523, bottom: 750, titleY: 475,
    left: { ticks: nlirTicksL, labels: nlirLabelsL, map: [4, 598, -2, 748] }, right: { ticks: nlirTicksR, labels: nlirLabelsR, map: [12, 523, 2, 673] },
    red: nlirRed, blue: nlirBlue, hi: nlirHi, lo: nlirLo, gray: nlirGray, dhi: nlirDiffHi, dlo: nlirDiffLo },
  { title: 'KD±2S.E.', x0: 238, x1: 373, top: 534, bottom: 762, titleY: 488,
    left: { ticks: nlirTicksL, labels: nlirLabelsL, map: [4, 543, -2, 760] }, right: { ticks: kdTicksR, labels: kdLabelsR, map: [12, 535, 4, 750] },
    red: kdRed, blue: kdBlue, hi: kdHi, lo: kdLo, gray: kdGray, dhi: kdDiffHi, dlo: kdDiffLo },
  { title: 'KF47 ± 2S.E.', x0: 442, x1: 577, top: 534, bottom: 762, titleY: 488,
    left: { ticks: e10Ticks, labels: e10Labels, map: [12, 570, -8, 758] }, right: { ticks: kfTicksR, labels: kfLabelsR, map: [4, 535, 0, 723] },
    red: kfRed, blue: kfBlue, gray: kfGray, dhi: kfDiffHi, dlo: kfDiffLo },
  { title: 'L±2S.E.', x0: 646, x1: 780, top: 533, bottom: 760, titleY: 488,
    left: { ticks: lTicksL, labels: lLabelsL, map: [2, 560, -1, 758] }, right: { ticks: lTicksR, labels: lLabelsR, map: [120, 534, 40, 736] },
    red: lRed, blue: lBlue, hi: lHi, lo: lLo, gray: lGray, dhi: lDiffHi, dlo: lDiffLo },
  { title: 'M±2S.E.', x0: 850, x1: 984, top: 534, bottom: 762, titleY: 488,
    left: { ticks: mTicksL, labels: mLabelsL, map: [2, 614, -2, 760] }, right: { ticks: mTicksR, labels: mLabelsR, map: [12, 535, 0, 680] },
    red: mRed, blue: mBlue, hi: mHi, lo: mLo, gray: mGray, dhi: mDiffHi, dlo: mDiffLo },
  { title: 'MACH±2S.E.', x0: 1055, x1: 1189, top: 534, bottom: 760, titleY: 488,
    left: { ticks: e10Ticks, labels: e10Labels, map: [12, 598, -8, 758] }, right: { ticks: kfTicksR, labels: machLabelsR, map: [4, 535, 0, 695] },
    red: machRed, blue: machBlue, hi: machHi, lo: machLo, gray: machGray, dhi: machDiffHi, dlo: machDiffLo },

  { title: 'RDY±2S.E.', x0: 27, x1: 161, top: 1013, bottom: 1240, titleY: 962,
    left: { ticks: rdyTicksL, labels: rdyLabelsL, map: [0.04, 1067, -0.02, 1238] }, right: { ticks: rdyTicksR, labels: rdyLabelsR, map: [1.4, 1015, 0.8, 1187] },
    red: rdyRed, blue: rdyBlue, hi: rdyHi, lo: rdyLo, gray: rdyGray, dhi: rdyDiffHi, dlo: rdyDiffLo },
  { title: 'NSIR±2S.E.', x0: 238, x1: 372, top: 1001, bottom: 1230, titleY: 950,
    left: { ticks: nsirTicksL, labels: nsirLabelsL, map: [2, 1061, -2, 1225] }, right: { ticks: nsirTicksR, labels: nsirLabelsR, map: [2, 1003, -1, 1168] },
    red: nsirRed, green: nsirGreen, blue: nsirBlue, hi: nsirHi, lo: nsirLo, gray: nsirGray, dhi: nsirDiffHi, dlo: nsirDiffLo },
  { title: 'S±2S.E.', x0: 442, x1: 575, top: 1022, bottom: 1250, titleY: 975,
    left: { ticks: mTicksL, labels: sLabelsL, map: [2, 1090, -2, 1247] }, right: { ticks: sTicksR, labels: sLabelsR, map: [10, 1022, 2, 1180] },
    red: sRed, green: sGreen, blue: sBlue, hi: sHi, lo: sLo, gray: sGray, dhi: sDiffHi, dlo: sDiffLo },
  { title: 'P±2S.E.', x0: 646, x1: 780, top: 1002, bottom: 1230, titleY: 950,
    left: { ticks: pTicksL, labels: pLabelsL, map: [0.01, 1085, -0.03, 1227] }, right: { ticks: pTicksR, labels: pLabelsR, map: [2.0, 1002, 0.4, 1143] },
    red: pRed, blue: pBlue, gray: pGray, dhi: pDiffHi, dlo: pDiffLo },
  { title: 'U2±2S.E.', x0: 848, x1: 982, top: 1017, bottom: 1245, titleY: 970,
    left: { ticks: rdyTicksL, labels: rdyLabelsL, map: [0.04, 1067, -0.02, 1242] }, right: { ticks: u2TicksR, labels: u2LabelsR, map: [0.15, 1018, 0, 1195] },
    red: u2Red, blue: u2Blue, hi: u2Hi, lo: u2Lo, gray: u2Gray, dhi: u2DiffHi, dlo: u2DiffLo },
  { title: 'R±2S.E.', x0: 1055, x1: 1188, top: 1002, bottom: 1230, titleY: 950,
    left: { ticks: t4, labels: plain4Labels, map: [4, 1062, -4, 1227] }, right: { ticks: rTicksR, labels: rLabelsR, map: [4, 1003, -2, 1168] },
    red: rRed, blue: rBlue, gray: rGray, dhi: rDiffHi, dlo: rDiffLo },

  { title: 'Y±2S.E.', x0: 39, x1: 173, top: 1443, bottom: 1670, titleY: 1393,
    left: { ticks: t4, labels: e11Labels, map: [4, 1488, -4, 1665] }, right: { ticks: yTicksR, labels: yLabelsR, map: [6, 1443, 0, 1618] },
    red: yRed, blue: yBlue, hi: yHi, lo: yLo, gray: yGray, dhi: yDiffHi, dlo: yDiffLo },
  { title: 'RDY_A', x0: 238, x1: 372, top: 1465, bottom: 1693, titleY: 1417, main: 'yR',
    left: { ticks: [], labels: [], map: [1, 1465, 0, 1693] }, right: { ticks: rdyaTicksR, labels: rdyaLabelsR, map: [0.00108, 1467, 0.00092, 1683] },
    green: rdyaGreen },
  { title: 'Z±2S.E.', x0: 441, x1: 575, top: 1452, bottom: 1682, titleY: 1407, main: 'yR', diff: 'yL',
    left: { ticks: zTicksL, labels: zLabelsL, map: [1, 1475, -1, 1678] }, right: { ticks: zTicksR, labels: zLabelsR, map: [12, 1453, 0, 1657] },
    red: zRed, blue: zBlue, dhi: zDiff },
  { title: 'THO99±2S.E.', x0: 646, x1: 780, top: 1465, bottom: 1695, titleY: 1417, main: 'yR', diff: 'yL',
    left: { ticks: rdyTicksL, labels: rdyLabelsL, map: [0.04, 1552, -0.02, 1690] }, right: { ticks: thoTicksR, labels: thoLabelsR, map: [6, 1466, 0, 1607] },
    red: thoRed, blue: thoBlue, gray: thoGray, dhi: thoDiffHi, dlo: thoDiffLo },
  { title: 'X±2S.E.', x0: 842, x1: 976, top: 1453, bottom: 1680, titleY: 1407,
    left: { ticks: xTicksL, labels: xLabelsL, map: [15, 1493, -5, 1677] }, right: { ticks: xTicksR, labels: xLabelsR, map: [10, 1453, 0, 1639] },
    red: xRed, blue: xBlue, gray: xGray, dhi: xDiffHi, dlo: xDiffLo }
];

function pts(a) { return a.map(([x, y]) => ({ x, y })); }

// axis min/max from two known tick positions on the picture
function span(map, top, bottom) {
  const [v1, p1, v2, p2] = map;
  const k = (v1 - v2) / (p2 - p1);
  return { min: v2 - (bottom - p2) * k, max: v1 + (p1 - top) * k };
}

const titlePlugin = {
  id: 'panelTitle',
  afterDraw(chart, args, o) {
    const { ctx, chartArea } = chart;
    ctx.save();
    ctx.font = '18px Lato, "Open Sans", sans-serif';
    ctx.fillStyle = TEXT;
    ctx.textAlign = 'center';
    ctx.textBaseline = 'middle';
    ctx.fillText(o.text, (chartArea.left + chartArea.right) / 2, o.y);
    ctx.restore();
  }
};

const zeroPlugin = {
  id: 'zeroLine',
  beforeDatasetsDraw(chart, args, o) {
    if (!o.show) return;
    const { ctx, chartArea } = chart;
    const yy = chart.scales.yL.getPixelForValue(0);
    ctx.save();
    ctx.strokeStyle = '#b3b3b3';
    ctx.lineWidth = 2;
    ctx.beginPath();
    ctx.moveTo(chartArea.left, yy);
    ctx.lineTo(chartArea.right, yy);
    ctx.stroke();
    ctx.restore();
  }
};

function yAxis(spec, p, side) {
  const r = span(spec.map, p.top, p.bottom);
  return {
    type: 'linear', position: side, min: r.min, max: r.max,
    afterBuildTicks: s => { s.ticks = spec.ticks.map(v => ({ value: v })); },
    afterFit: s => { s.width = side === 'left' ? LEFT_W : RIGHT_W; },
    border: { display: false },
    grid: {
      color: c => {
        const a = c.chart.chartArea;
        if (!c.tick || !a) return GRID;
        const px = c.scale.getPixelForValue(c.tick.value);
        return (px - a.top < 12 || a.bottom - px < 12) ? 'transparent' : GRID;
      },
      lineWidth: 5,
      drawTicks: side === 'right', tickLength: 8, tickColor: '#cfcfcf', tickWidth: 4
    },
    ticks: { autoSkip: false, padding: side === 'left' ? 5 : 3, color: TEXT, font: { size: 15 },
      callback: (v, i) => spec.labels[i] }
  };
}

const redStyle = { borderColor: RED, backgroundColor: RED, borderWidth: 5, pointStyle: 'rect', pointRadius: 2.5, pointBorderWidth: 0 };
const greenStyle = { borderColor: GREEN, borderWidth: 6, pointRadius: 0 };
const blueStyle = { borderColor: BLUE, borderWidth: 3, pointRadius: 0 };
const bandStyle = { borderColor: ORANGE, borderWidth: 2.5, borderDash: [9, 6], pointRadius: 0 };
const diffStyle = { borderColor: ORANGE, borderWidth: 4, borderDash: [6, 4], pointRadius: 0 };
const grayStyle = { borderColor: GRAY, borderWidth: 4, pointRadius: 0 };

function buildSets(p) {
  const main = p.main || 'yL', diff = p.diff || 'yR';
  const out = [];
  const add = (data, axis, style) => { if (data) out.push(Object.assign({ data: pts(data), yAxisID: axis }, style)); };
  add(p.red, main, redStyle);
  add(p.green, main, greenStyle);
  add(p.blue, main, blueStyle);
  add(p.hi, main, bandStyle);
  add(p.lo, main, bandStyle);
  add(p.dhi, diff, diffStyle);
  add(p.dlo, diff, diffStyle);
  add(p.gray, diff, grayStyle);
  return out;
}

const wrap = document.getElementById('wrap');
panels.forEach(p => {
  const canvasTop = p.titleY - 14;
  const cv = document.createElement('canvas');
  cv.width = Math.round(LEFT_W + (p.x1 - p.x0) / SQUEEZE + RIGHT_W);
  cv.height = Math.round(p.bottom - canvasTop + AXIS_H);
  cv.style.left = (p.x0 - LEFT_W * SQUEEZE) + 'px';
  cv.style.top = canvasTop + 'px';
  cv.style.transform = 'scaleX(' + SQUEEZE + ')';
  wrap.appendChild(cv);

  new Chart(cv, {
    type: 'line',
    data: { datasets: buildSets(p) },
    options: {
      responsive: false,
      animation: false,
      events: [],
      layout: { padding: { top: p.top - canvasTop, left: 0, right: 0, bottom: 0 } },
      elements: { line: { tension: 0 } },
      plugins: {
        legend: { display: false },
        tooltip: { enabled: false },
        panelTitle: { text: p.title, y: p.titleY - canvasTop },
        zeroLine: { show: p.left.ticks.includes(0) }
      },
      scales: {
        x: {
          type: 'linear', min: 1960, max: 2030,
          afterBuildTicks: s => { s.ticks = decadeTicks.map(v => ({ value: v })); },
          afterFit: s => { s.height = AXIS_H; },
          border: { display: false },
          grid: { color: c => (c.index === 0 || c.index === decadeTicks.length - 1) ? 'transparent' : '#e2e2e2', lineWidth: 3, drawTicks: false },
          ticks: { autoSkip: false, maxRotation: 0, padding: 7, color: TEXT, font: { size: 16 },
            callback: (v, i) => decadeLabels[i] }
        },
        yL: yAxis(p.left, p, 'left'),
        yR: yAxis(p.right, p, 'right')
      }
    },
    plugins: [titlePlugin, zeroPlugin]
  });
});
</script>
</body>
</html>
